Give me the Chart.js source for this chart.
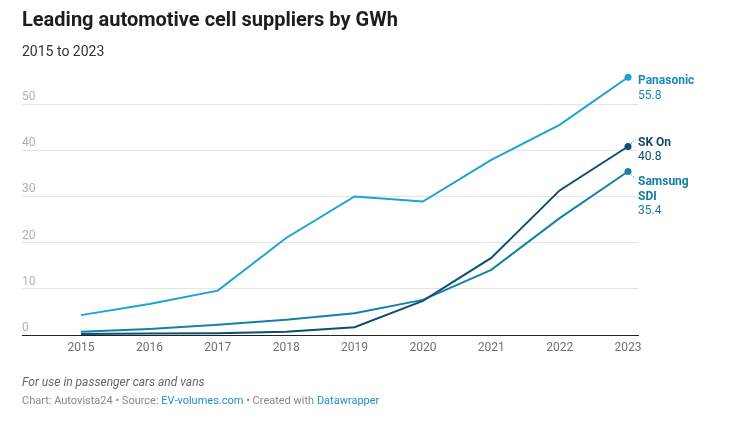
<!DOCTYPE html>
<html>
<head>
<meta charset="utf-8">
<script src="https://cdn.jsdelivr.net/npm/chart.js@4"></script>
<style>
  html, body { margin: 0; padding: 0; background: #fff; width: 750px; height: 425px; overflow: hidden; font-family: Roboto, "Noto Sans", sans-serif; }
  #title { position: absolute; left: 22px; top: 7px; font-size: 20px; font-weight: 700; color: #1d1d1d; white-space: nowrap; }
  #subtitle { position: absolute; left: 22px; top: 43px; font-size: 14px; color: #333; white-space: nowrap; }
  #note { position: absolute; left: 22px; top: 375px; font-size: 12px; font-style: italic; color: #666; white-space: nowrap; }
  #source { position: absolute; left: 22px; top: 394px; font-size: 11px; color: #888; white-space: nowrap; }
  #source a { color: #1d8fcf; text-decoration: none; }
  #wrap { position: absolute; left: 0; top: 0; width: 750px; height: 425px; }
</style>
</head>
<body>
<div id="wrap"><canvas id="c" width="750" height="425"></canvas></div>
<div id="title">Leading automotive cell suppliers by GWh</div>
<div id="subtitle">2015 to 2023</div>
<div id="note">For use in passenger cars and vans</div>
<div id="source">Chart: Autovista24 • Source: <a>EV-volumes.com</a> • Created with <a>Datawrapper</a></div>
<script>
const years = [2015, 2016, 2017, 2018, 2019, 2020, 2021, 2022, 2023];
const panasonic = [4.3, 6.7, 9.6, 21.0, 30.0, 28.9, 37.9, 45.5, 55.8];
const skOn = [0.2, 0.3, 0.4, 0.7, 1.7, 7.4, 16.7, 31.3, 40.8];
const samsungSdi = [0.7, 1.3, 2.2, 3.3, 4.7, 7.6, 14.1, 25.3, 35.4];
const seriesNames = ["Panasonic", "SK On", "Samsung SDI"];
const yTicks = [0, 10, 20, 30, 40, 50];

const lineColors = ["#1ba3d6", "#0c4f74", "#1581aa"];
const labelColors = ["#1a8ab9", "#0d4a6b", "#157ca3"];
// label lines and offsets (pixels relative to last point)
const labelLines = [["Panasonic"], ["SK On"], ["Samsung", "SDI"]];
const labelOffsets = [4, -4, 11];
const seriesData = [panasonic, skOn, samsungSdi];

function toPoints(arr) { return arr.map((v, i) => ({ x: years[i], y: v })); }

const endLabels = {
  id: "endLabels",
  afterDatasetsDraw(chart) {
    const ctx = chart.ctx;
    ctx.save();
    chart.data.datasets.forEach((ds, di) => {
      const meta = chart.getDatasetMeta(di);
      const last = meta.data[meta.data.length - 1];
      const px = last.x, py = last.y;
      const lx = px + 10;
      let y = py + labelOffsets[di];
      // connector dots
      if (di > 0) {
        ctx.strokeStyle = labelColors[di];
        ctx.lineWidth = 1;
        ctx.setLineDash([1, 2]);
        ctx.beginPath();
        const dir = di === 1 ? -1 : 1;
        ctx.moveTo(px + 3, py + dir * 3);
        ctx.lineTo(px + 8, py + dir * 7);
        ctx.stroke();
        ctx.setLineDash([]);
      }
      ctx.textAlign = "left";
      ctx.textBaseline = "middle";
      ctx.fillStyle = labelColors[di];
      ctx.font = "bold 12px Roboto";
      labelLines[di].forEach(t => { ctx.fillText(t, lx, y); y += 14.5; });
      ctx.font = "12px Roboto";
      ctx.fillText(seriesData[di][seriesData[di].length - 1].toFixed(1), lx, y);
    });
    ctx.restore();
  }
};

new Chart(document.getElementById("c"), {
  type: "line",
  data: {
    datasets: seriesData.map((d, i) => ({
      label: seriesNames[i],
      data: toPoints(d),
      borderColor: lineColors[i],
      backgroundColor: lineColors[i],
      borderWidth: 2,
      tension: 0,
      pointRadius: (c) => c.dataIndex === d.length - 1 ? 3.5 : 0,
      pointHoverRadius: 0,
      pointBorderWidth: 0,
      clip: false
    }))
  },
  options: {
    responsive: false,
    animation: false,
    events: [],
    layout: { padding: { left: 22, right: 112, top: 74, bottom: 66 } },
    plugins: { legend: { display: false }, tooltip: { enabled: false } },
    scales: {
      x: {
        type: "linear",
        min: 2014.137,
        max: 2023.146,
        afterBuildTicks: s => { s.ticks = years.map(v => ({ value: v })); },
        afterFit: s => { s.height = 24; },
        grid: { display: false, drawTicks: false },
        border: { display: true, color: "#222", width: 1 },
        ticks: { color: "#707070", font: { family: "Roboto", size: 12 }, padding: 6, callback: v => String(v), maxRotation: 0, autoSkip: false }
      },
      y: {
        min: 0,
        max: 56.5,
        afterBuildTicks: s => { s.ticks = yTicks.map(v => ({ value: v })); },
        afterFit: s => { s.width = 0; },
        grid: { color: "#e3e3e3", lineWidth: 1, drawTicks: false },
        border: { display: false },
        ticks: { mirror: true, padding: 0, labelOffset: -7, color: "#b0b0b0", font: { family: "Roboto", size: 12 } }
      }
    }
  },
  plugins: [endLabels]
});
</script>
</body>
</html>
